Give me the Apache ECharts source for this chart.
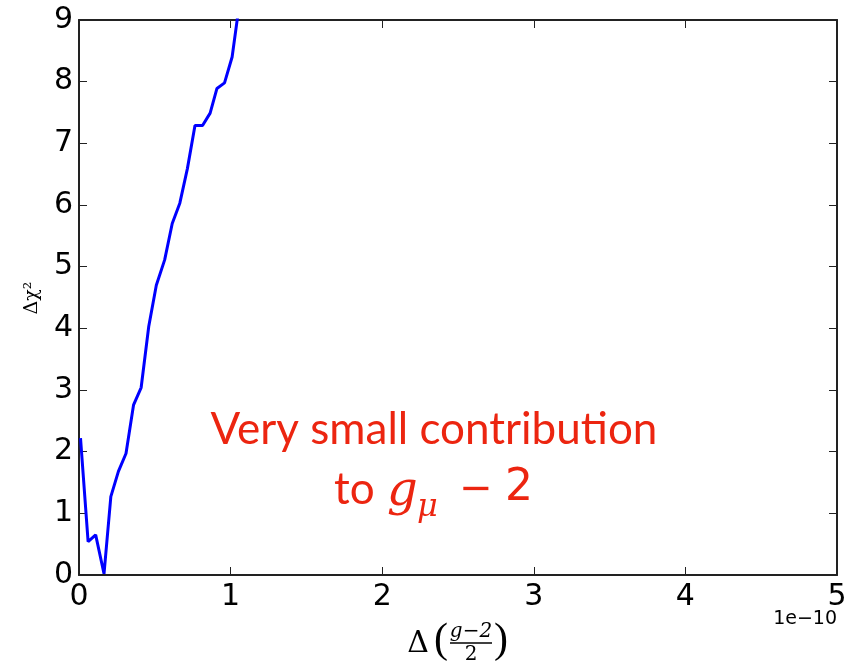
<!DOCTYPE html>
<html>
<head>
<meta charset="utf-8">
<script src="https://cdn.jsdelivr.net/npm/echarts@6/dist/echarts.min.js"></script>
<style>
  html, body { margin: 0; padding: 0; background: #fff; }
  #main { width: 855px; height: 666px; }
</style>
</head>
<body>
<div id="main"></div>
<script>
// x in units of 1e-10
var xValues = [0.01, 0.06, 0.11, 0.165, 0.21, 0.26, 0.31, 0.36, 0.41, 0.46, 0.51,
               0.565, 0.615, 0.665, 0.715, 0.765, 0.815, 0.865, 0.91, 0.96, 1.01, 1.06];
var chi2 = [2.22, 0.54, 0.65, 0.02, 1.27, 1.68, 1.97, 2.76, 3.04, 4.03, 4.70,
            5.11, 5.70, 6.03, 6.59, 7.29, 7.29, 7.49, 7.89, 7.98, 8.40, 9.3];
var xTicks = [0, 1, 2, 3, 4, 5];
var yTicks = [0, 1, 2, 3, 4, 5, 6, 7, 8, 9];

var pts = [];
for (var i = 0; i < xValues.length; i++) {
  pts.push([xValues[i], chi2[i]]);
}

var axisCol = '#222';
var tickFont = { fontFamily: 'DejaVu Sans', fontSize: 30, color: '#000' };

function baseX(pos, showLabel) {
  return {
    type: 'value', position: pos, min: xTicks[0], max: xTicks[xTicks.length - 1], interval: 1,
    axisLine: { show: true, onZero: false, lineStyle: { color: axisCol, width: 2 } },
    axisTick: { show: true, inside: true, length: 8, lineStyle: { color: axisCol, width: 1 } },
    axisLabel: showLabel ? Object.assign({ margin: 7 }, tickFont) : { show: false },
    splitLine: { show: false }
  };
}
function baseY(pos, showLabel) {
  return {
    type: 'value', position: pos, min: yTicks[0], max: yTicks[yTicks.length - 1], interval: 1,
    axisLine: { show: true, onZero: false, lineStyle: { color: axisCol, width: 2 } },
    axisTick: { show: true, inside: true, length: 8, lineStyle: { color: axisCol, width: 1 } },
    axisLabel: showLabel ? Object.assign({ margin: 6 }, tickFont) : { show: false },
    splitLine: { show: false }
  };
}

var red = '#ec2510';
var myChart = echarts.init(document.getElementById('main'));
var option = {
  animation: false,
  backgroundColor: '#fff',
  grid: { left: 79, right: 18, top: 20, bottom: 91, containLabel: false },
  xAxis: [baseX('bottom', true), baseX('top', false)],
  yAxis: [baseY('left', true), baseY('right', false)],
  series: [{
    type: 'line',
    data: pts,
    xAxisIndex: 0, yAxisIndex: 0,
    symbol: 'none',
    clip: true,
    lineStyle: { color: '#0000ff', width: 3 }
  }],
  graphic: [
    // offset text
    { type: 'text', right: 18, top: 610, style: { text: '1e\u221210', font: '19px "DejaVu Sans"', fill: '#000' } },
    // y label
    { type: 'text', x: 32, y: 298, rotation: Math.PI / 2,
      style: { text: '\u0394\u03c7\u00b2', font: '19px "DejaVu Serif"', fill: '#000', align: 'center', verticalAlign: 'middle' } },
    // x label: Δ( (g-2)/2 )
    { type: 'text', x: 418, y: 644, style: { text: '\u0394', font: '30px "DejaVu Serif"', fill: '#000', align: 'center', verticalAlign: 'middle' } },
    { type: 'text', x: 441, y: 641, style: { text: '(', font: '42px "Liberation Serif"', fill: '#000', align: 'center', verticalAlign: 'middle' } },
    { type: 'text', x: 471, y: 632, style: { text: 'g\u22122', font: 'italic 20px "DejaVu Serif"', fill: '#000', align: 'center', verticalAlign: 'middle' } },
    { type: 'line', shape: { x1: 450, y1: 643, x2: 492, y2: 643 }, style: { stroke: '#000', lineWidth: 1.5 } },
    { type: 'text', x: 471, y: 655, style: { text: '2', font: '20px "DejaVu Serif"', fill: '#000', align: 'center', verticalAlign: 'middle' } },
    { type: 'text', x: 501, y: 641, style: { text: ')', font: '42px "Liberation Serif"', fill: '#000', align: 'center', verticalAlign: 'middle' } },
    // red annotation
    { type: 'text', x: 434, y: 430, style: { text: 'Very small contribution', font: '44px Lato', fill: red, align: 'center', verticalAlign: 'middle' } },
    { type: 'text', x: 334, y: 490, style: { text: 'to', font: '44px Lato', fill: red, align: 'left', verticalAlign: 'middle' } },
    { type: 'text', x: 387, y: 493, style: { text: 'g', font: 'italic 48px "DejaVu Serif"', fill: red, align: 'left', verticalAlign: 'middle' } },
    { type: 'text', x: 417, y: 508, style: { text: '\u03bc', font: 'italic 32px "DejaVu Serif"', fill: red, align: 'left', verticalAlign: 'middle' } },
    { type: 'text', x: 476, y: 491, style: { text: '\u2212', font: '40px "DejaVu Sans"', fill: red, align: 'center', verticalAlign: 'middle' } },
    { type: 'text', x: 519, y: 489, style: { text: '2', font: '44px "DejaVu Sans"', fill: red, align: 'center', verticalAlign: 'middle' } }
  ]
};
myChart.setOption(option);
</script>
</body>
</html>
